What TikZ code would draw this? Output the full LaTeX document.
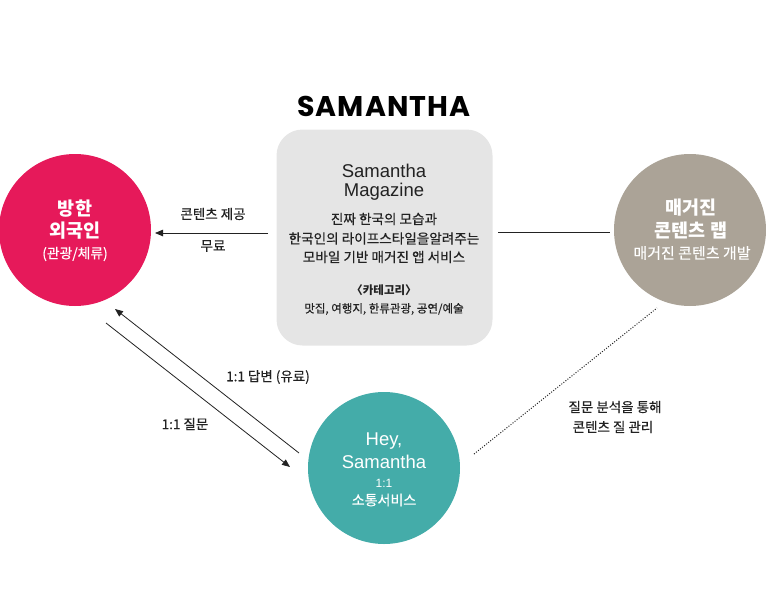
\documentclass[tikz,border=0pt]{standalone}
\usepackage{fontspec}
\setmainfont{Noto Sans CJK KR}
\newfontfamily\kr[FakeBold=0.4]{Noto Sans CJK KR}
\newfontfamily\krb{Noto Sans CJK KR}
\newfontfamily\lat{Liberation Sans}
\newfontfamily\ttl[LetterSpace=4]{Poppins}
\usetikzlibrary{arrows.meta}
\definecolor{pinkc}{HTML}{E6195A}
\definecolor{taupec}{HTML}{ABA397}
\definecolor{tealc}{HTML}{44ACA9}
\definecolor{boxgray}{HTML}{E5E5E5}
\definecolor{txt}{HTML}{222222}
\begin{document}
\begin{tikzpicture}[x=1pt,y=-1pt,
  every node/.style={inner sep=0pt, outer sep=0pt},
  circ/.style={circle, minimum size=152pt},
  conn/.style={line width=0.8pt, txt},
  arr/.style={conn, -{Triangle[length=8pt,width=6.5pt]}},
  lbl/.style={font=\kr\fontsize{13.5}{15}\selectfont, text=txt},
  bigk/.style={font=\krb\bfseries\fontsize{18.5}{20}\selectfont, text=white},
  smallk/.style={font=\kr\fontsize{13.8}{15}\selectfont, text=white},
  bigl/.style={font=\lat\fontsize{18.5}{20}\selectfont},
  boxk/.style={font=\kr\fontsize{13.6}{15}\selectfont, text=txt}]
\useasboundingbox (0,0) rectangle (766,600);
% shapes
\node[circ, fill=pinkc] (visitor) at (75,230) {};
\node[circ, fill=taupec] (lab) at (690,230) {};
\node[circ, fill=tealc] (hey) at (384,468) {};
\node[fill=boxgray, rounded corners=26pt, minimum width=216pt, minimum height=216pt] (mag) at (384.5,237.5) {};
% title
\node[font=\ttl\bfseries\fontsize{28.5}{30}\selectfont, text=black] (title) at (384,106) {SAMANTHA};
% pink circle text
\node[bigk] (v1) at (75,209) {방한};
\node[bigk] (v2) at (75,231) {외국인};
\node[smallk] (v3) at (75,254) {(관광/체류)};
% taupe circle text
\node[bigk] (l1) at (691,208) {매거진};
\node[bigk] (l2) at (691,230) {콘텐츠 랩};
\node[smallk, font=\kr\fontsize{15}{17}\selectfont] (l3) at (692,253) {매거진 콘텐츠 개발};
% teal circle text
\node[bigl, text=white] (h1) at (384,441) {Hey,};
\node[bigl, text=white] (h2) at (384,462) {Samantha};
\node[font=\lat\fontsize{12}{14}\selectfont, text=white] (h3) at (384,483) {1:1};
\node[smallk, font=\kr\fontsize{14}{16}\selectfont] (h4) at (384,500) {소통서비스};
% box text
\node[bigl, text=txt] (m1) at (384,171) {Samantha};
\node[bigl, text=txt] (m2) at (384,192) {Magazine};
\node[boxk] (m3) at (384,219) {진짜 한국의 모습과};
\node[boxk] (m4) at (384,238.5) {한국인의 라이프스타일을알려주는};
\node[boxk] (m5) at (384,257) {모바일 기반 매거진 앱 서비스};
\node[font=\krb\bfseries\fontsize{11.5}{13}\selectfont, text=txt] (m6) at (384,290) {〈카테고리〉};
\node[font=\kr\fontsize{11.5}{13}\selectfont, text=txt] (m7) at (384,309) {맛집, 여행지, 한류관광, 공연/예술};
% connector end points
\coordinate (a1s) at (268,233);
\coordinate (a1e) at (155,233);
\coordinate (r1s) at (498,232);
\coordinate (r1e) at (610,232);
\coordinate (ansS) at (299,453);
\coordinate (ansE) at (115,309);
\coordinate (qS) at (106,323);
\coordinate (qE) at (290,467);
\coordinate (dS) at (474,454);
\coordinate (dE) at (657,308);
% connectors
\draw[arr] (a1s) -- (a1e);
\draw[conn] (r1s) -- (r1e);
\draw[arr] (ansS) -- (ansE);
\draw[arr] (qS) -- (qE);
\draw[conn, line width=1pt, dash pattern=on 1pt off 1.6pt] (dS) -- (dE);
% labels
\node[lbl] (t1) at (213,214) {콘텐츠 제공};
\node[lbl] (t2) at (213,246) {무료};
\node[lbl] (t3) at (268,377) {1:1 답변 (유료)};
\node[lbl] (t4) at (185,424) {1:1 질문};
\node[lbl] (t5) at (615,407) {질문 분석을 통해};
\node[lbl] (t6) at (613,427) {콘텐츠 질 관리};
\end{tikzpicture}
\end{document}
